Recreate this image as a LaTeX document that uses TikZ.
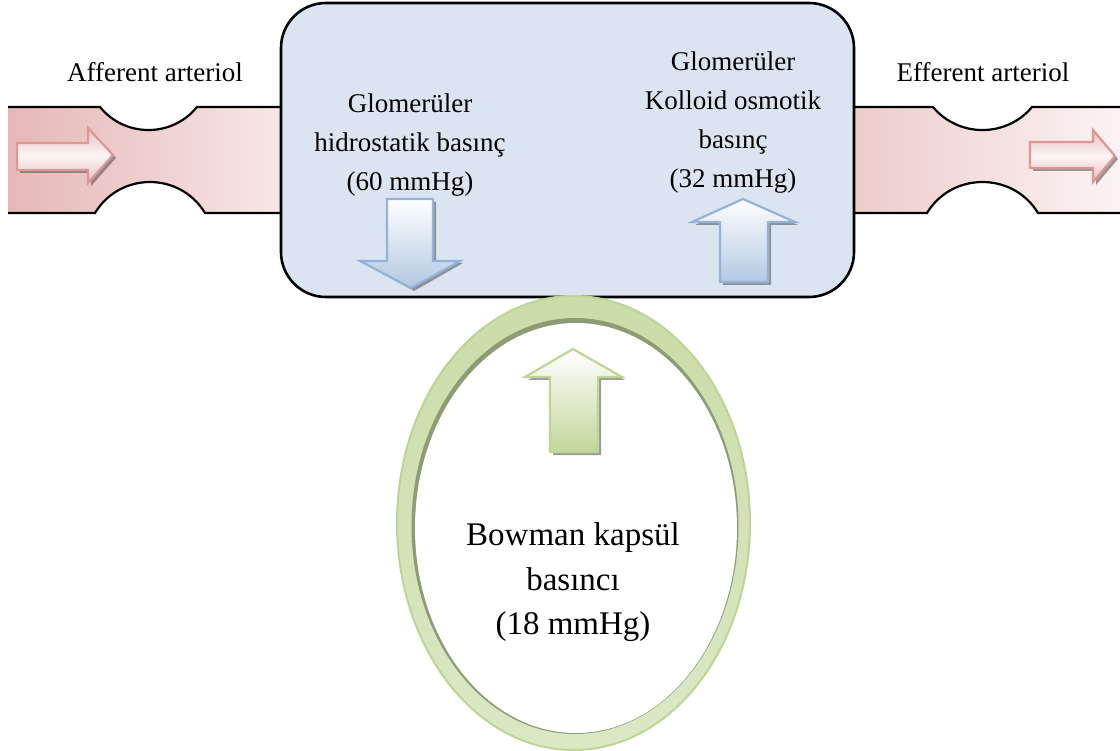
\documentclass[tikz,border=0pt]{standalone}
\usepackage{fontspec}
\setmainfont{Liberation Serif}
\definecolor{boxblue}{HTML}{DBE5F1}
\definecolor{tubedark}{HTML}{E6B7B7}
\definecolor{tubelight}{HTML}{FBF3F3}
\definecolor{pinkline}{HTML}{DC9896}
\definecolor{pinkfill}{HTML}{E8BEBD}
\definecolor{bluefill}{HTML}{B3C8E2}
\definecolor{blueline}{HTML}{95B3D7}
\definecolor{greenfill}{HTML}{C3D69B}
\definecolor{greenline}{HTML}{BDD597}
\definecolor{ringdark}{HTML}{CADCA8}
\definecolor{ringlight}{HTML}{E3EDD2}
\definecolor{ringshadow}{HTML}{8E9C76}
\definecolor{shadowc}{HTML}{5A5A5A}
\begin{document}
\begin{tikzpicture}[x=1pt,y=-1pt,
  wall/.style={line width=2.2pt,black},
  arrshadow/.style={fill=shadowc,opacity=0.6},
  bluearrow/.style={draw=blueline,line width=2.2pt,top color=white,bottom color=bluefill,line join=miter},
  greenarrow/.style={draw=greenline,line width=2.2pt,top color=white,bottom color=greenfill,line join=miter},
  pinkarrow/.style={draw=pinkline,line width=2.2pt,top color=pinkfill,bottom color=pinkfill,middle color=white!85!pinkfill,line join=miter},
  lbl/.style={font=\fontsize{27}{39}\selectfont,align=center,inner sep=0pt},
  biglbl/.style={font=\fontsize{33}{44.5}\selectfont,align=center,inner sep=0pt}
]
\useasboundingbox (0,0) rectangle (1120,751);
\fill[white] (0,0) rectangle (1120,751);

% left tube
\fill[left color=tubedark,right color=tubelight!80!tubedark]
  (8,107) -- (100,107) .. controls (125,137.7) and (172,137.7) .. (197,107)
  -- (282,107) -- (282,213) -- (205,213) .. controls (180,171.7) and (120,171.7) .. (95,213)
  -- (8,213) -- cycle;
\draw[wall] (8,107) -- (100,107) .. controls (125,137.7) and (172,137.7) .. (197,107) -- (282,107);
\draw[wall] (8,213) -- (95,213) .. controls (120,171.7) and (180,171.7) .. (205,213) -- (282,213);

% right tube
\fill[left color=tubedark!65!tubelight,right color=tubelight]
  (853,107) -- (933,107) .. controls (958.5,137.7) and (1006.5,137.7) .. (1032,107)
  -- (1120,107) -- (1120,213) -- (1038,213) .. controls (1013,171.7) and (952,171.7) .. (927,213)
  -- (853,213) -- cycle;
\draw[wall] (853,107) -- (933,107) .. controls (958.5,137.7) and (1006.5,137.7) .. (1032,107) -- (1120,107);
\draw[wall] (853,213) -- (927,213) .. controls (952,171.7) and (1013,171.7) .. (1038,213) -- (1120,213);

% glomerulus box
\draw[wall,line width=2.6pt,fill=boxblue,rounded corners=45pt] (281,3) rectangle (854,297);

% pink arrows
\fill[arrshadow] (20,146) -- (91,146) -- (91,131) -- (116,158) -- (91,186) -- (91,173) -- (20,173) -- cycle;
\draw[pinkarrow] (17,143) -- (88,143) -- (88,128) -- (113,155) -- (88,183) -- (88,170) -- (17,170) -- cycle;
\fill[arrshadow] (1033,145) -- (1096,145) -- (1096,133) -- (1118,159) -- (1096,185) -- (1096,171) -- (1033,171) -- cycle;
\draw[pinkarrow] (1030,142) -- (1093,142) -- (1093,130) -- (1115,156) -- (1093,182) -- (1093,168) -- (1030,168) -- cycle;

% blue arrows
\fill[arrshadow] (390,202) -- (436,202) -- (436,263) -- (463,263) -- (414,291) -- (363,263) -- (390,263) -- cycle;
\draw[bluearrow] (387,199) -- (433,199) -- (433,261) -- (460,261) -- (411,288) -- (360,261) -- (387,261) -- cycle;
\fill[arrshadow] (746,202) -- (798,225) -- (771,225) -- (771,285) -- (723,285) -- (723,225) -- (695,225) -- cycle;
\draw[bluearrow] (743,199) -- (795,222) -- (768,222) -- (768,282) -- (720,282) -- (720,222) -- (692,222) -- cycle;

% Bowman capsule
\draw[greenline,line width=2pt,top color=ringdark,bottom color=ringlight!70!ringdark] (573.5,523) ellipse [x radius=176.5,y radius=227];
\fill[ringshadow] (575,526) ellipse [x radius=163.5,y radius=208];
\fill[white] (576,528) ellipse [x radius=161,y radius=205];

% green arrow
\fill[arrshadow] (576,352) -- (625,380) -- (601,380) -- (601,455) -- (553,455) -- (553,380) -- (528,380) -- cycle;
\draw[greenarrow] (573,349) -- (622,377) -- (598,377) -- (598,452) -- (550,452) -- (550,377) -- (525,377) -- cycle;

% labels
\node[lbl,anchor=base] (aff) at (155,82) {Afferent arteriol};
\node[lbl,anchor=base] (eff) at (983,82) {Efferent arteriol};
\node[lbl,anchor=north] (ghyd) at (410,93.5) {Glomerüler\\hidrostatik basınç\\(60 mmHg)};
\node[lbl,anchor=north] (gkol) at (733,51.5) {Glomerüler\\Kolloid osmotik\\basınç\\(32 mmHg)};
\node[biglbl,anchor=north] (bow) at (573,522.5) {Bowman kapsül\\basıncı\\(18 mmHg)};
\end{tikzpicture}
\end{document}
